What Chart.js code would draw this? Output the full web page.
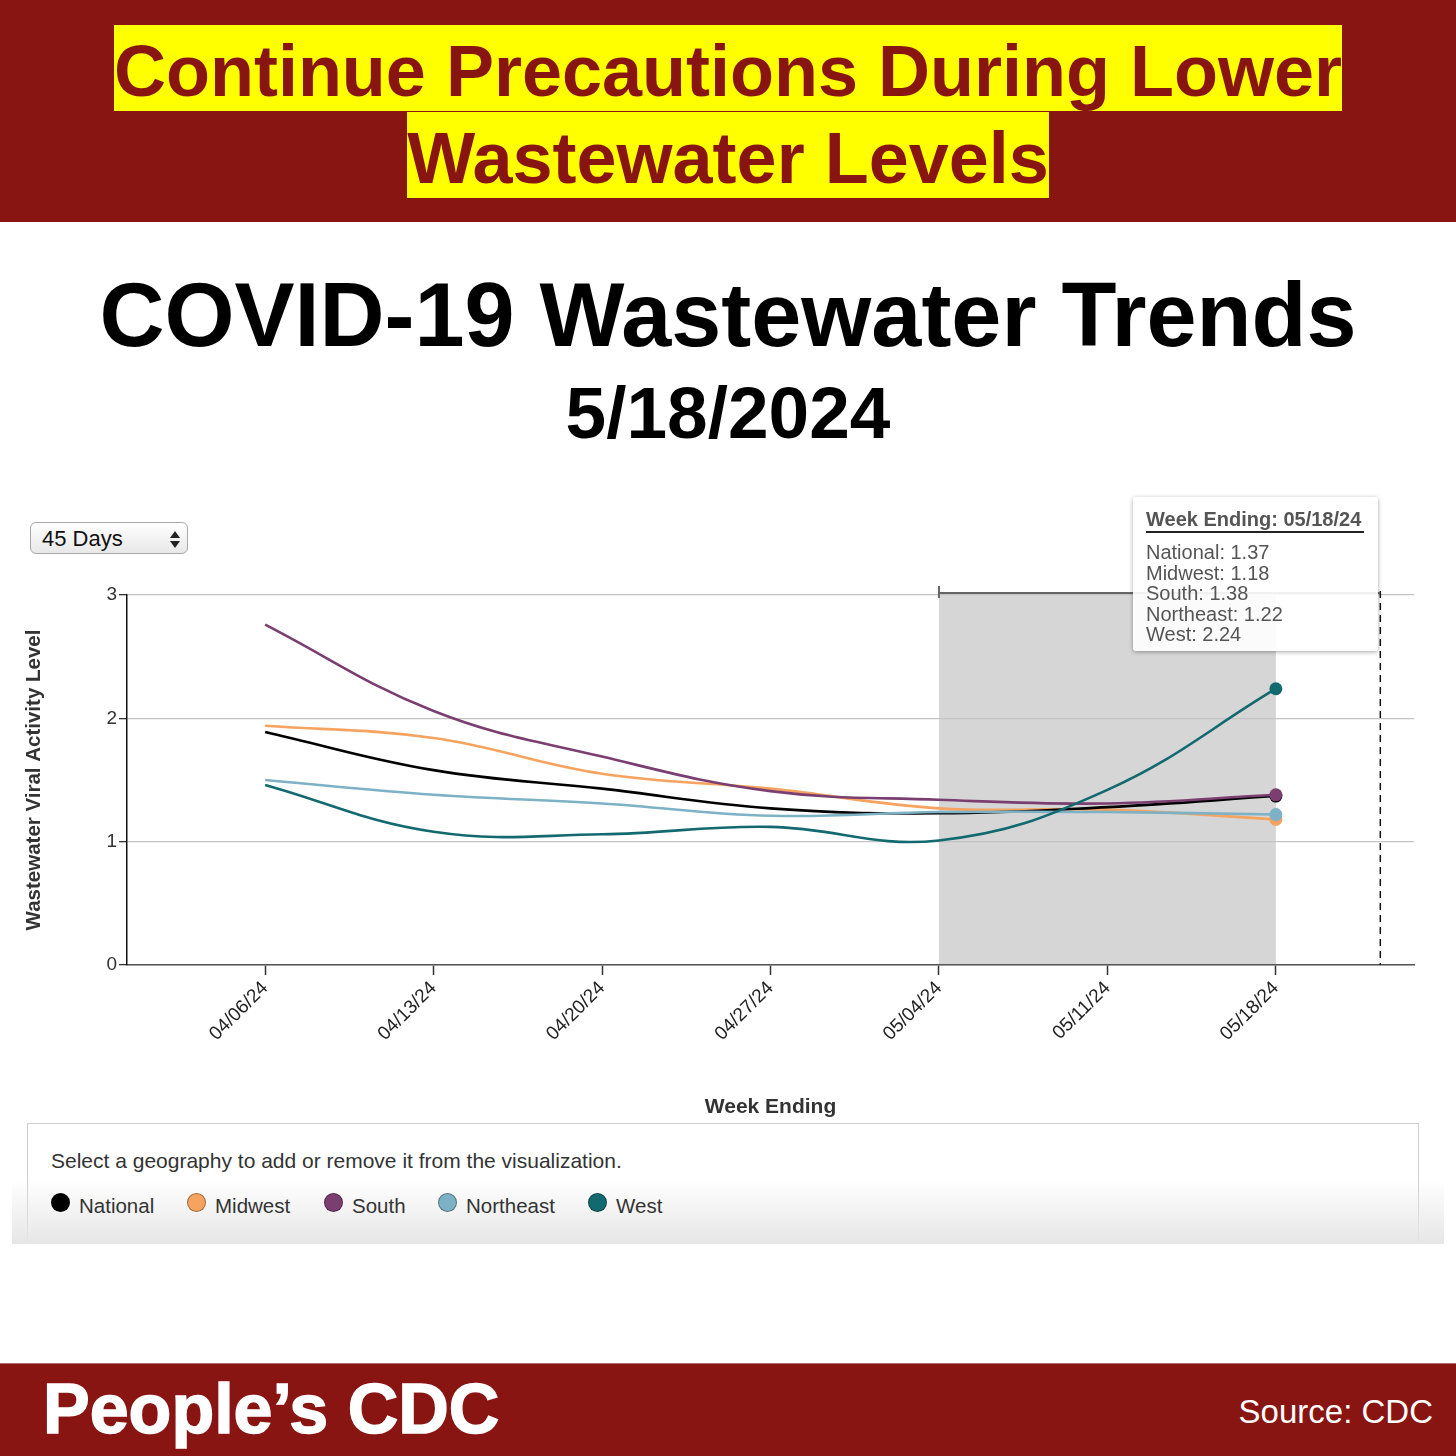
<!DOCTYPE html>
<html>
<head>
<meta charset="utf-8">
<script src="https://cdn.jsdelivr.net/npm/chart.js@4.4.1/dist/chart.umd.min.js"></script>
<style>
  html, body { margin: 0; padding: 0; background: #fff; }
  body { width: 1456px; height: 1456px; position: relative; overflow: hidden; font-family: "Liberation Sans", Arial, Helvetica, sans-serif; }
  .abs { position: absolute; }
  #banner { left: 0; top: 0; width: 1456px; height: 222px; background: #891512; }
  .hl-line { left: 0; width: 1456px; text-align: center; }
  .hl { display: inline-block; background: #ffff00; color: #891512; font-weight: bold; font-size: 72px; height: 86px; line-height: 92px; padding: 0; white-space: nowrap; }
  #title { left: 0; width: 1456px; top: 270px; text-align: center; font-weight: bold; font-size: 90px; line-height: 90px; color: #000; }
  #date { left: 0; width: 1456px; top: 376px; text-align: center; font-weight: bold; font-size: 73px; line-height: 73px; color: #000; }
  #select { left: 30px; top: 522px; width: 156px; height: 30px; border: 1px solid #a8a8a8; border-radius: 6px; background: linear-gradient(#ffffff, #e8e8e8); box-sizing: content-box; }
  #select span { position: absolute; left: 11px; top: 3px; font-size: 22px; line-height: 26px; color: #111; }
  .tri { position: absolute; left: 139px; width: 0; height: 0; border-left: 5px solid transparent; border-right: 5px solid transparent; }
  #wrap { left: 0; top: 560px; width: 1456px; height: 560px; }
  #tip { left: 1133px; top: 497px; width: 245px; height: 154px; background: rgba(255,255,255,0.9); box-shadow: 0 1px 4px rgba(0,0,0,0.35); border-radius: 3px; color: #555; }
  #tipHead { position: absolute; left: 13px; top: 11px; width: 218px; height: 23px; font-weight: bold; font-size: 20px; line-height: 23px; border-bottom: 2px solid #222; white-space: nowrap; }
  #tipBody { position: absolute; left: 13px; top: 45px; font-size: 20px; line-height: 20.5px; white-space: nowrap; }
  #legendBox { left: 27px; top: 1123px; width: 1390px; height: 120px; border: 1px solid #cfcfcf; border-bottom: none; background: #fff; }
  #fade { left: 12px; top: 1180px; width: 1432px; height: 64px; background: linear-gradient(rgba(232,232,232,0), #e6e6e6); }
  #legendText { left: 51px; top: 1150px; font-size: 21px; line-height: 22px; color: #333; white-space: nowrap; }
  .leg { position: absolute; top: 1194px; font-size: 20.5px; line-height: 24px; color: #333; white-space: nowrap; }
  .dot { position: absolute; top: 1193px; width: 19px; height: 19px; border-radius: 50%; box-sizing: border-box; border: 1px solid rgba(0,0,0,0.35); }
  #footer { left: 0; top: 1363px; width: 1456px; height: 93px; background: #891512; border-top: 1px solid #b07070; box-sizing: border-box; }
  #brand { left: 43px; top: 1374px; font-weight: bold; font-size: 70px; line-height: 70px; color: #fff; white-space: nowrap; -webkit-text-stroke: 1.5px #fff; }
  #source { right: 23px; top: 1395px; font-size: 33px; line-height: 33px; color: #fff; white-space: nowrap; }
</style>
</head>
<body>
<div id="banner" class="abs"></div>
<div class="abs hl-line" style="top:25px"><span class="hl">Continue Precautions During Lower</span></div>
<div class="abs hl-line" style="top:112px"><span class="hl">Wastewater Levels</span></div>

<div id="title" class="abs">COVID-19 Wastewater Trends</div>
<div id="date" class="abs">5/18/2024</div>

<div id="select" class="abs"><span>45 Days</span>
  <div class="tri" style="top:8px;border-bottom:7px solid #222"></div>
  <div class="tri" style="top:18px;border-top:7px solid #222"></div>
</div>

<div id="legendBox" class="abs"></div>
<div id="fade" class="abs"></div>
<div id="legendText" class="abs">Select a geography to add or remove it from the visualization.</div>
<div id="legendItems"></div>

<div id="wrap" class="abs"><canvas id="chart" width="1456" height="560"></canvas></div>

<div id="tip" class="abs"><div id="tipHead"></div><div id="tipBody"></div></div>

<div id="footer" class="abs"></div>
<div id="brand" class="abs">People’s CDC</div>
<div id="source" class="abs">Source: CDC</div>

<script>
  const weeks = ["04/06/24", "04/13/24", "04/20/24", "04/27/24", "05/04/24", "05/11/24", "05/18/24"];
  const national = [1.89, 1.58, 1.43, 1.27, 1.23, 1.28, 1.37];
  const midwest = [1.94, 1.84, 1.55, 1.43, 1.27, 1.26, 1.18];
  const south = [2.76, 2.06, 1.69, 1.41, 1.34, 1.31, 1.38];
  const northeast = [1.5, 1.38, 1.31, 1.21, 1.24, 1.24, 1.22];
  const west = [1.46, 1.08, 1.06, 1.12, 1.01, 1.42, 2.24];
  const yTicks = [0, 1, 2, 3];

  const shadeFrom = 4; // 05/04/24
  const shadeTo = 6; // 05/18/24
  const hoverX = 6.62;

  const series = [
    { name: "National", values: national, color: "#000000", order: 4 },
    { name: "Midwest", values: midwest, color: "#f5a35e", order: 5 },
    { name: "South", values: south, color: "#7b3e71", order: 2 },
    { name: "Northeast", values: northeast, color: "#7db1c6", order: 3 },
    { name: "West", values: west, color: "#126a70", order: 1 },
  ];

  const legendX = [51, 187, 324, 438, 588];
  document.getElementById("legendItems").innerHTML = series
    .map(
      (s, i) =>
        `<div class="dot" style="left:${legendX[i]}px;background:${s.color}"></div><div class="leg" style="left:${legendX[i] + 28}px">${s.name}</div>`,
    )
    .join("");

  const last = weeks.length - 1;
  document.getElementById("tipHead").textContent = `Week Ending: ${weeks[last]}`;
  document.getElementById("tipBody").innerHTML = series.map((s) => `${s.name}: ${s.values[last].toFixed(2)}`).join("<br>");

  const overlay = {
    id: "overlay",
    beforeDraw(chart) {
      const { ctx, chartArea } = chart;
      const x = chart.scales.x;
      const x0 = x.getPixelForValue(shadeFrom);
      const x1 = x.getPixelForValue(shadeTo);
      ctx.save();
      ctx.fillStyle = "#d6d6d6";
      ctx.fillRect(x0, chartArea.top, x1 - x0, chartArea.bottom - chartArea.top);
      ctx.restore();
    },
    afterDatasetsDraw(chart) {
      const { ctx, chartArea } = chart;
      const x = chart.scales.x;
      const x0 = x.getPixelForValue(shadeFrom);
      const xh = x.getPixelForValue(hoverX);
      ctx.save();
      ctx.strokeStyle = "#111";
      ctx.lineWidth = 1.5;
      ctx.setLineDash([7, 5]);
      ctx.beginPath();
      ctx.moveTo(xh, chartArea.top - 4);
      ctx.lineTo(xh, chartArea.bottom);
      ctx.stroke();
      ctx.setLineDash([]);
      ctx.strokeStyle = "#666";
      ctx.lineWidth = 2;
      ctx.beginPath();
      ctx.moveTo(x0, chartArea.top - 2);
      ctx.lineTo(xh, chartArea.top - 2);
      ctx.moveTo(x0, chartArea.top - 9);
      ctx.lineTo(x0, chartArea.top + 3);
      ctx.stroke();
      ctx.restore();
    },
  };

  new Chart(document.getElementById("chart"), {
    type: "line",
    data: {
      datasets: series.map((s) => ({
        label: s.name,
        data: s.values.map((v, i) => ({ x: i, y: v })),
        borderColor: s.color,
        backgroundColor: s.color,
        borderWidth: 2.6,
        tension: 0.4,
        order: s.order,
        pointRadius: s.values.map((v, i) => (i === last ? 6.5 : 0)),
        pointBorderWidth: 0,
        pointHoverRadius: 0,
      })),
    },
    options: {
      responsive: false,
      animation: false,
      events: [],
      layout: { padding: { top: 35, right: 42, left: 0, bottom: 0 } },
      plugins: { legend: { display: false }, tooltip: { enabled: false } },
      scales: {
        x: {
          type: "linear",
          min: -0.82,
          max: 6.82,
          afterBuildTicks: (s) => {
            s.ticks = weeks.map((w, i) => ({ value: i }));
          },
          afterFit: (s) => {
            s.height = 155;
          },
          ticks: {
            callback: (v) => weeks[v] || "",
            minRotation: 45,
            maxRotation: 45,
            padding: 2,
            color: "#222",
            font: { family: "'Liberation Sans', Arial", size: 19 },
          },
          grid: { drawOnChartArea: false, drawTicks: true, tickLength: 10, tickColor: "#333", tickWidth: 1.5 },
          border: { display: true, color: "#555", width: 1.5 },
          title: {
            display: true,
            text: "Week Ending",
            color: "#333",
            font: { family: "'Liberation Sans', Arial", size: 21, weight: "bold" },
            padding: { top: 0, bottom: 0 },
          },
        },
        y: {
          min: 0,
          max: 3,
          afterBuildTicks: (s) => {
            s.ticks = yTicks.map((v) => ({ value: v }));
          },
          afterFit: (s) => {
            s.width = 127;
          },
          ticks: {
            padding: 2,
            color: "#333",
            font: { family: "'Liberation Sans', Arial", size: 19 },
          },
          grid: { color: "#c4c4c4", lineWidth: 1.3, drawTicks: true, tickLength: 8, tickColor: "#333", tickWidth: 1.3 },
          border: { display: true, color: "#111", width: 1.5 },
          title: {
            display: true,
            text: "Wastewater Viral Activity Level",
            color: "#333",
            font: { family: "'Liberation Sans', Arial", size: 20.5, weight: "bold" },
            padding: { top: 22, bottom: 0 },
          },
        },
      },
    },
    plugins: [overlay],
  });
</script>
</body>
</html>
